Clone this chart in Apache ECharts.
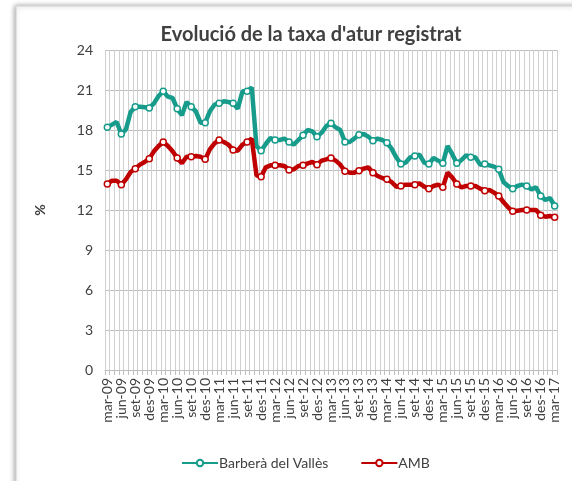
<!DOCTYPE html>
<html>
<head>
<meta charset="utf-8">
<script src="https://cdn.jsdelivr.net/npm/echarts@6/dist/echarts.min.js"></script>
<style>
  body { margin: 0; padding: 0; background: #fff; }
  #chart { width: 572px; height: 481px; }
</style>
</head>
<body>
<div id="chart"></div>
<script>
// month labels, mar-09 .. mar-17
const monthNames = ['gen', 'feb', 'mar', 'abr', 'mai', 'jun', 'jul', 'ago', 'set', 'oct', 'nov', 'des']
const categories = []
for (let y = 2009; y <= 2017; y++) {
  for (let m = 0; m < 12; m++) {
    if (y === 2009 && m < 2) continue
    if (y === 2017 && m > 2) continue
    categories.push(monthNames[m] + '-' + String(y).slice(2))
  }
}

const yTicks = [0, 3, 6, 9, 12, 15, 18, 21, 24]

const barbera = [
  18.2, 18.4, 18.6, 17.7, 18.05, 19.35, 19.75, 19.75, 19.7, 19.65,
  20.0, 20.55, 20.9, 20.5, 20.4, 19.6, 19.1, 20.1, 19.75, 19.4,
  18.55, 18.55, 19.4, 19.9, 20.0, 20.15, 20.1, 20.0, 19.6, 20.9,
  20.9, 21.2, 16.8, 16.45, 16.95, 17.4, 17.25, 17.25, 17.35, 17.1,
  16.9, 17.25, 17.6, 18.0, 17.9, 17.5, 17.8, 18.3, 18.5, 18.2,
  18.0, 17.1, 17.1, 17.35, 17.65, 17.7, 17.5, 17.2, 17.35, 17.25,
  17.05, 16.6, 15.95, 15.45, 15.55, 15.95, 16.05, 16.15, 15.55, 15.45,
  15.9, 15.7, 15.5, 16.8, 16.2, 15.5, 15.75, 16.1, 15.95, 15.95,
  15.4, 15.45, 15.35, 15.25, 15.05, 14.1, 13.8, 13.6, 13.8, 13.9,
  13.8, 13.55, 13.7, 13.05, 12.75, 12.9, 12.3
]

const amb = [
  13.95, 14.2, 14.2, 13.9, 14.3, 14.85, 15.1, 15.4, 15.6, 15.85,
  16.4, 16.8, 17.1, 16.8, 16.4, 15.9, 15.5, 16.0, 16.0, 16.05,
  16.0, 15.8, 16.55, 17.0, 17.25, 17.1, 16.9, 16.5, 16.45, 16.9,
  17.1, 17.35, 14.6, 14.5, 15.2, 15.35, 15.35, 15.35, 15.3, 15.0,
  15.05, 15.3, 15.35, 15.5, 15.6, 15.4, 15.7, 15.8, 15.9, 15.7,
  15.4, 14.9, 14.8, 14.8, 14.95, 15.1, 15.2, 14.8, 14.55, 14.4,
  14.3, 14.1, 13.75, 13.8, 13.9, 13.9, 13.9, 14.0, 13.75, 13.6,
  13.8, 13.9, 13.7, 14.8, 14.45, 13.95, 13.7, 13.8, 13.8, 13.8,
  13.6, 13.45, 13.5, 13.3, 13.05, 12.6, 12.2, 11.9, 11.95, 12.0,
  12.0, 12.0, 12.0, 11.6, 11.5, 11.55, 11.45
]

const teal = '#179c8c'
const red = '#c00000'
const font = 'Lato, "Open Sans", sans-serif'

const chart = echarts.init(document.getElementById('chart'))

const lineSeries = (name, data, color) => ({
  name: name,
  type: 'line',
  data: data,
  symbol: 'circle',
  symbolSize: 6,
  showSymbol: true,
  lineStyle: { color: color, width: 4.5 },
  itemStyle: { color: '#fff', borderColor: color, borderWidth: 1.5 },
  emphasis: { disabled: true },
  animation: false
})

chart.setOption({
  backgroundColor: '#fff',
  graphic: [
    {
      type: 'rect',
      shape: { x: 16, y: 6, width: 620, height: 520 },
      style: {
        fill: '#fff',
        stroke: '#d4d4d4',
        lineWidth: 1,
        shadowBlur: 5,
        shadowColor: 'rgba(0,0,0,0.35)',
        shadowOffsetX: -1,
        shadowOffsetY: 0
      },
      z: -10
    }
  ],
  title: {
    text: "Evolució de la taxa d'atur registrat",
    left: 306,
    top: 20,
    textAlign: 'center',
    textStyle: { fontFamily: font, fontSize: 20, fontWeight: 'bold', color: '#404040' }
  },
  legend: {
    left: 176,
    bottom: 6,
    itemWidth: 36,
    itemHeight: 8,
    itemGap: 32,
    textStyle: { fontFamily: font, fontSize: 14, color: '#404040', padding: [0, 0, 0, -4] },
    data: ['Barberà del Vallès', 'AMB']
  },
  grid: { left: 105, right: 15, top: 50, bottom: 111, containLabel: false },
  xAxis: {
    type: 'category',
    data: categories,
    boundaryGap: true,
    axisLine: { lineStyle: { color: '#bfbfbf' } },
    axisTick: { show: true, interval: 0, length: 5, lineStyle: { color: '#bfbfbf' } },
    axisLabel: {
      interval: 2,
      rotate: 90,
      margin: 8,
      fontFamily: font,
      fontSize: 14,
      color: '#404040'
    },
    splitLine: { show: true, interval: 0, lineStyle: { color: '#d0d0d0', width: 1 } }
  },
  yAxis: {
    type: 'value',
    min: yTicks[0],
    max: yTicks[yTicks.length - 1],
    interval: 3,
    name: '%',
    nameLocation: 'middle',
    nameGap: 58,
    nameRotate: 90,
    nameTextStyle: { fontFamily: font, fontSize: 14, fontWeight: 'bold', color: '#404040' },
    axisLine: { show: false },
    axisTick: { show: false },
    axisLabel: { fontFamily: font, fontSize: 14, color: '#404040', margin: 12 },
    splitLine: { lineStyle: { color: '#bfbfbf', width: 1 } }
  },
  series: [
    lineSeries('Barberà del Vallès', barbera, teal),
    lineSeries('AMB', amb, red)
  ]
})
</script>
</body>
</html>
